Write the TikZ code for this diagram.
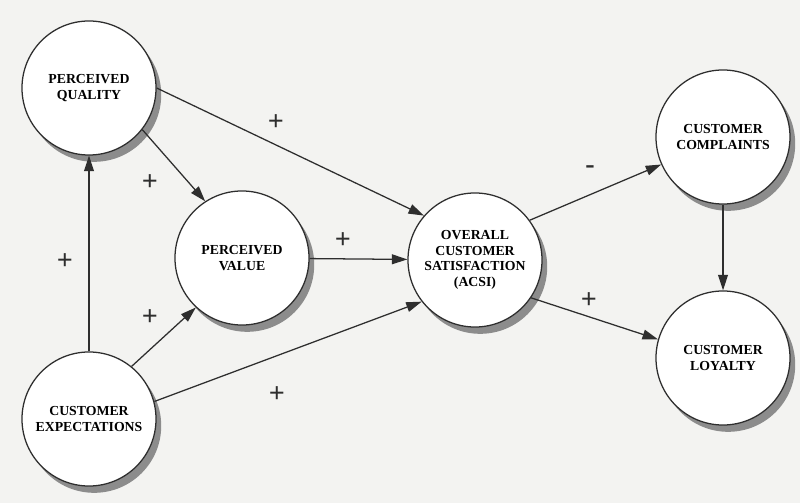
\documentclass[tikz,border=0pt]{standalone}
\usepackage{fontspec}
\setmainfont{Liberation Serif}
\usepackage{tikz}
\usetikzlibrary{arrows.meta,shadows}
\definecolor{inkgray}{HTML}{2E2E2E}
\definecolor{paper}{HTML}{F3F3F1}
\tikzstyle{construct} = [circle, draw=inkgray, line width=0.9pt, fill=white, minimum size=3.35cm, inner sep=0pt, align=center, font=\bfseries\fontsize{9.8}{11}\selectfont, general shadow={shadow xshift=0.13cm, shadow yshift=-0.17cm, fill=black!45}]
\tikzstyle{arrow}     = [line width=0.9pt, draw=inkgray, -{Triangle[length=11pt,width=7pt]}]
\tikzstyle{sign}      = [font=\bfseries\fontsize{20}{20}\selectfont, inner sep=1pt, text=inkgray]

\begin{document}
\begin{tikzpicture}[x=0.025cm, y=-0.025cm]
		\fill[paper] (0,0) rectangle (800,503);
		\useasboundingbox (0,0) rectangle (800,503);
		% constructs
		\node[construct] (quality)     at (89,88)   {PERCEIVED\\QUALITY};
		\node[construct] (value)       at (242,258) {PERCEIVED\\VALUE};
		\node[construct] (expectation) at (89,419)  {CUSTOMER\\EXPECTATIONS};
		\node[construct] (acsi)        at (475,260) {OVERALL\\CUSTOMER\\SATISFACTION\\(ACSI)};
		\node[construct] (complaint)   at (723,137) {CUSTOMER\\COMPLAINTS};
		\node[construct] (loyalty)     at (723,358) {CUSTOMER\\LOYALTY};
		% paths
		\draw[arrow] (quality.0) -- (acsi.139);
		\draw[arrow] (quality.-38) -- (value.123);
		\draw[arrow] (expectation) -- (quality);
		\draw[arrow] (expectation.51) -- (value.227);
		\draw[arrow] (expectation.15) -- (acsi.218);
		\draw[arrow] (value) -- (acsi);
		\draw[arrow] (acsi.36) -- (complaint.204);
		\draw[arrow] (acsi.-34) -- (loyalty.164);
		\draw[arrow] (complaint) -- (loyalty);
		% signs
		\node[sign] (s1) at (276,123) {+};
		\node[sign] (s2) at (150,183) {+};
		\node[sign] (s3) at (65,262)  {+};
		\node[sign] (s4) at (150,318) {+};
		\node[sign] (s5) at (343,241) {+};
		\node[sign] (s6) at (277,395) {+};
		\node[sign] (s7) at (590,170) {-};
		\node[sign] (s8) at (589,301) {+};
	\end{tikzpicture}
\end{document}
